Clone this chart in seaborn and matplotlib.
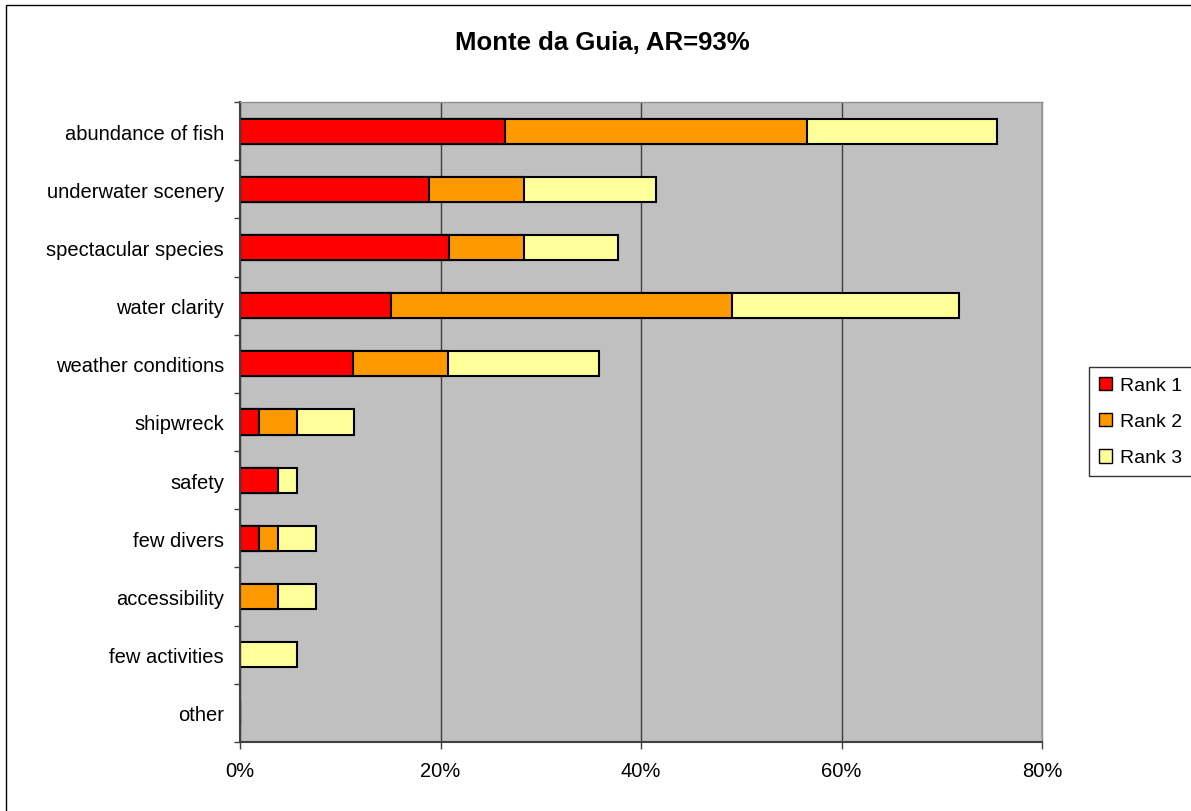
import numpy as np
import pandas as pd
import seaborn as sb
import matplotlib
matplotlib.use("Agg")
import matplotlib.pyplot as plt
from matplotlib.patches import Patch, Rectangle

# share of respondents (%) per factor and rank
factors = ["abundance of fish", "underwater scenery", "spectacular species",
           "water clarity", "weather conditions", "shipwreck", "safety",
           "few divers", "accessibility", "few activities", "other"]
rank1 = [26.4, 18.9, 20.8, 15.1, 11.3, 1.9, 3.8, 1.9, 0.0, 0.0, 0.0]
rank2 = [30.2, 9.4, 7.5, 34.0, 9.4, 3.8, 0.0, 1.9, 3.8, 0.0, 0.0]
rank3 = [18.9, 13.2, 9.4, 22.6, 15.1, 5.7, 1.9, 3.8, 3.8, 5.7, 0.0]
rank_labels = ["Rank 1", "Rank 2", "Rank 3"]
rank_colors = ["#FF0000", "#FF9900", "#FFFF99"]
x_ticks = [0, 20, 40, 60, 80]
title = "Monte da Guia, AR=93%"

plt.rcParams['font.family'] = ['Liberation Sans', 'DejaVu Sans']

df = pd.DataFrame({"factor": factors, "r1": rank1, "r2": rank2, "r3": rank3})
df["c1"] = df["r1"]
df["c2"] = df["r1"] + df["r2"]
df["c3"] = df["c2"] + df["r3"]

W, H = 1191, 812
fig = plt.figure(figsize=(W / 100, H / 100), dpi=100)
ax = fig.add_axes([240 / W, 1 - 743 / H, (1042 - 240) / W, (743 - 103) / H])
ax.set_facecolor("#C0C0C0")
ax.set_axisbelow(True)

# stacked bars drawn as overlapping cumulative bars (longest first)
for col, color in zip(["c3", "c2", "c1"], rank_colors[::-1]):
    sb.barplot(data=df, x=col, y="factor", color=color, saturation=1,
               edgecolor="black", linewidth=1.5, width=0.43,
               errorbar=None, ax=ax)

ax.set_xlim(0, 80)
ax.set_ylim(10.5, -0.5)
ax.set_xlabel("")
ax.set_ylabel("")
ax.set_xticks(x_ticks)
ax.set_xticklabels([f"{v}%" for v in x_ticks])
ax.xaxis.grid(True, color="#404040", linewidth=1)
ax.yaxis.grid(False)

ax.set_yticks(np.arange(-0.5, 11, 1), minor=True)
ax.tick_params(axis="y", which="major", length=0, pad=11.5, labelsize=14.5)
ax.tick_params(axis="y", which="minor", length=4, width=1, color="#404040")
ax.tick_params(axis="x", which="major", length=5, width=1, color="#404040",
               pad=9, labelsize=14.5)

for side in ["left", "bottom"]:
    ax.spines[side].set_color("#404040")
    ax.spines[side].set_linewidth(1.5)
for side in ["top", "right"]:
    ax.spines[side].set_color("#909090")
    ax.spines[side].set_linewidth(1)

fig.text(0.506, 1 - 43 / H, title, ha="center", va="center",
         fontsize=18.5, fontweight="bold")

handles = [Patch(facecolor=c, edgecolor="black", linewidth=1) for c in rank_colors]
leg = fig.legend(handles, rank_labels, loc="upper left",
                 bbox_to_anchor=(1089 / W, 1 - 368 / H), frameon=True,
                 fancybox=False, edgecolor="black", fontsize=14,
                 handlelength=0.7, handleheight=0.7, handletextpad=0.4,
                 labelspacing=0.95, borderpad=0.5, borderaxespad=0)
leg.get_frame().set_linewidth(1)

# chart border (only left / top edges fall inside the picture)
fig.add_artist(Rectangle((6 / W, -0.1), 2, 1.1 - 6 / H, fill=False,
                         edgecolor="black", linewidth=1,
                         transform=fig.transFigure))

plt.savefig("out.png", dpi=100)
